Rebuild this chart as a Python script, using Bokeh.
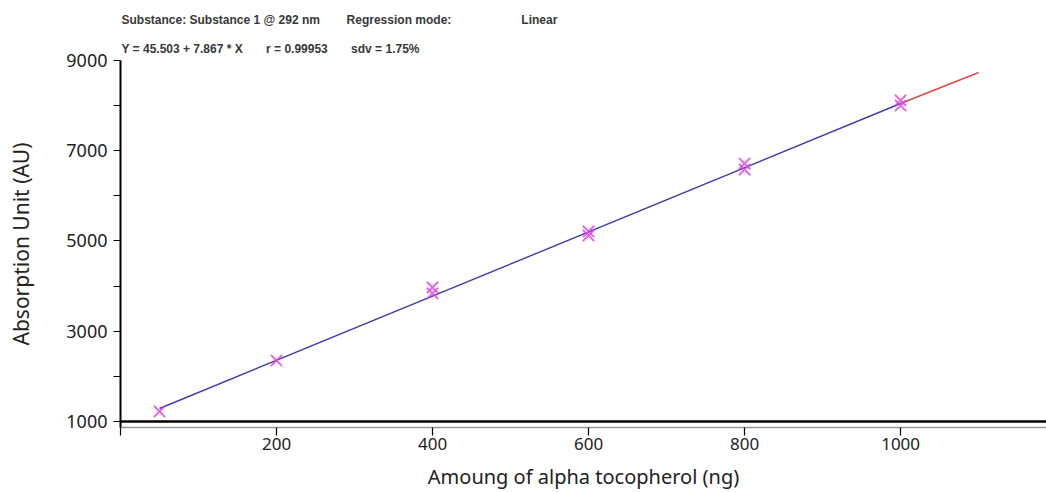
from bokeh.plotting import figure
from bokeh.models import Range1d, FixedTicker, Span, Title
from bokeh.embed import file_html
from bokeh.resources import INLINE

# Data
conc = [50, 200, 400, 400, 600, 600, 800, 800, 1000, 1000]
area = [1222, 2352, 3970, 3837, 5211, 5122, 6717, 6584, 8114, 8003]
fit_x = [50, 1000]
fit_y = [1288, 8047]
extra_x = [1000, 1100]
extra_y = [8047, 8734]
x_ticks = [200, 400, 600, 800, 1000]
y_ticks = [1000, 3000, 5000, 7000, 9000]
y_minor = [2000, 4000, 6000, 8000]
NB = "\u00a0"
header1 = "Substance: Substance 1 @ 292 nm" + NB * 8 + "Regression mode:" + NB * 21 + "Linear"
header2 = "Y = 45.503 + 7.867 * X" + NB * 7 + "r = 0.99953" + NB * 7 + "sdv = 1.75%"

p = figure(width=1046, height=492, output_backend="svg", toolbar_location=None,
           x_range=Range1d(0, 1187), y_range=Range1d(867, 9000),
           min_border_left=120, min_border_right=0, min_border_top=60,
           min_border_bottom=65)
p.outline_line_color = None
p.xgrid.visible = False
p.ygrid.visible = False
p.background_fill_color = "white"

# header lines as titles (line 2 closest to the plot)
for txt, so in [(header2, 10), (header1, 15)]:
    p.add_layout(Title(text=txt, align="left", offset=1, standoff=so,
                       text_font="Liberation Sans", text_font_size="12px",
                       text_font_style="bold", text_color="#383838"), "above")

# axes
xa = p.xaxis[0]
xa.ticker = FixedTicker(ticks=x_ticks, minor_ticks=[0])
xa.axis_line_color = "#999999"
xa.axis_line_width = 1.5
xa.major_tick_out = 8
xa.major_tick_in = 0
xa.minor_tick_out = 8
xa.minor_tick_in = 0
xa.major_tick_line_width = 1.2
xa.minor_tick_line_width = 1.2
xa.major_label_text_font = "Noto Sans"
xa.major_label_text_font_size = "17px"
xa.major_label_text_color = "#222222"
xa.major_label_standoff = 2
xa.axis_label = "Amoung of alpha tocopherol (ng)"
xa.axis_label_text_font = "Noto Sans"
xa.axis_label_text_font_size = "20px"
xa.axis_label_text_font_style = "normal"
xa.axis_label_text_color = "#222222"
xa.axis_label_standoff = 10

ya = p.yaxis[0]
ya.ticker = FixedTicker(ticks=y_ticks, minor_ticks=y_minor)
ya.axis_line_color = "black"
ya.axis_line_width = 2
ya.major_tick_out = 7
ya.major_tick_in = 0
ya.minor_tick_out = 7
ya.minor_tick_in = 0
ya.major_tick_line_width = 1.2
ya.minor_tick_line_width = 1.2
ya.major_label_text_font = "Noto Sans"
ya.major_label_text_font_size = "18px"
ya.major_label_text_color = "#222222"
ya.major_label_standoff = 6
ya.axis_label = "Absorption Unit (AU)"
ya.axis_label_text_font = "Noto Sans"
ya.axis_label_text_font_size = "21px"
ya.axis_label_text_font_style = "normal"
ya.axis_label_text_color = "#222222"
ya.axis_label_standoff = 28

# black baseline (double line effect)
p.add_layout(Span(location=y_ticks[0], dimension="width", line_color="black", line_width=2.5))

# regression line
p.line(fit_x, fit_y, line_color="#3b3bb0", line_width=1.4)
p.line(extra_x, extra_y, line_color="#e04848", line_width=1.4)

# data points
p.scatter(conc, area, marker="x", size=16, line_color="#e040e0", line_width=2, line_alpha=0.8)

open("out.html", "w").write(file_html(p, INLINE))
